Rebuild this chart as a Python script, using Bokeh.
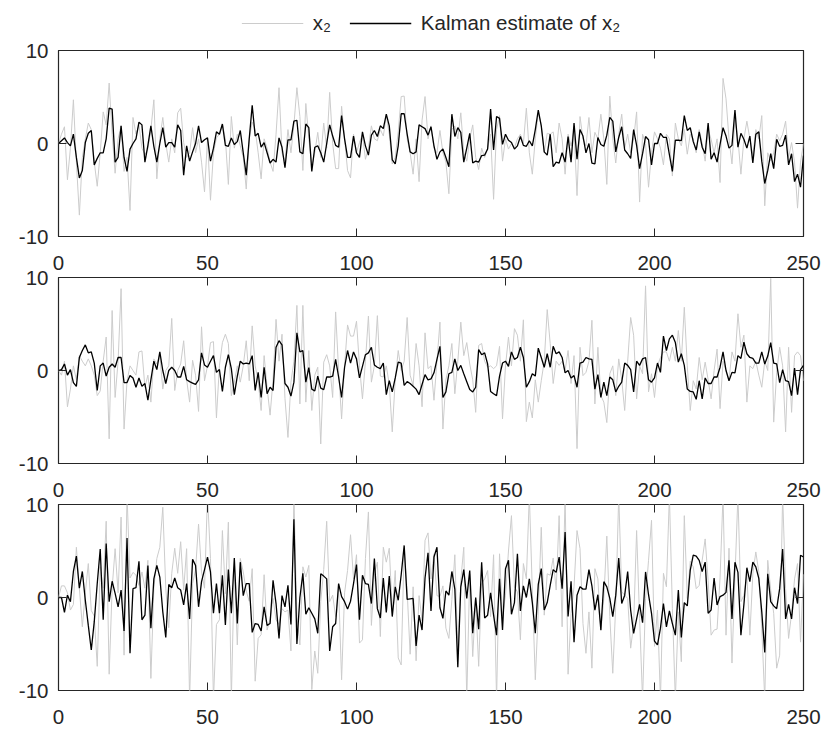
from bokeh.plotting import figure
from bokeh.models import Range1d, FixedTicker, LinearAxis, Legend, LegendItem, ColumnDataSource
from bokeh.layouts import column
from bokeh.embed import file_html
from bokeh.resources import INLINE

x_ticks = [0, 50, 100, 150, 200, 250]
y_ticks = [-10, 0, 10]
y_tick_labels = {-10: "-10", 0: "0", 10: "10"}
legend_labels = ["x\u2082", "Kalman estimate of x\u2082"]

p1_true = [0, 1.0, 1.8, -3.9, -0.5, 4.7, -2.0, -7.7, -1.5, 0.5,
           2.2, 1.5, -2.0, -4.6, -1.0, 3.4, 2.0, 6.5, 1.0, -3.2,
           0.5, 1.9, -3.0, -1.5, -7.2, 2.8, 1.0, 2.0, -0.5, -1.2,
           -0.6, 1.5, 4.7, -3.8, 0.5, 2.8, 0.0, -2.0, 0.5, -1.0,
           3.3, 3.8, 0.1, -1.5, -1.0, 1.7, -1.0, 0.5, -2.0, -5.2,
           0.5, -6.1, -1.0, 0.6, 1.0, 2.1, 0.5, -4.4, 2.9, -0.5,
           1.0, -0.25, -1.5, -4.9, 0.5, 2.3, 1.5, -1.0, -3.8, 0.5,
           -0.5, -2.0, -3.0, 1.0, 6.0, -1.0, -1.9, 1.5, -1.0, 2.0,
           6.0, 2.9, -2.9, 4.3, 0.5, -2.4, -1.0, 1.2, -1.5, 2.2,
           -0.5, 5.5, 0.0, -2.7, -2.7, 4.0, 0.5, -2.9, -3.7, 1.0,
           -1.0, 0.1, 1.0, -1.7, -0.5, 1.9, 0.5, 0.3, 1.5, 0.8,
           3.0, 1.0, -2.2, -1.5, 1.25, 5.05, 5.1, 0.5, -1.0, -3.3,
           0.5, -4.1, 2.5, 5.05, 0.5, 1.9, -0.5, -1.0, 1.4, -1.0,
           -2.0, -5.4, 1.5, 1.9, 0.5, 3.3, -1.0, -1.9, 0.5, 2.0,
           -1.5, -2.8, -0.5, -1.5, -0.5, 1.0, -6.0, 1.5, 3.0, -1.9,
           0.5, -0.6, 0.0, -0.5, 0.5, 1.0, 0.0, 3.8, -1.0, -3.3,
           0.5, 3.3, 2.0, -1.0, 1.1, 1.0, 1.25, -1.0, 2.2, 0.5,
           -3.3, 1.0, -0.25, 1.5, -5.6, 2.9, 0.5, -0.25, 2.8, -1.0,
           1.2, 0.5, 3.15, 0.5, -4.4, 5.1, 0.5, -2.1, 1.0, 3.15,
           -0.5, 1.0, -1.0, 0.5, 3.4, -6.3, 1.0, 0.0, -4.7, -1.0,
           1.25, 0.5, -0.5, -2.3, 1.0, 0.5, -3.5, 2.2, 0.5, -0.25,
           1.5, -1.15, 1.0, 0.5, -1.0, 1.5, 0.0, -1.9, 1.5, 0.45,
           -1.0, 0.5, -4.2, 7.0, 4.8, 0.5, -2.2, 2.5, 0.5, -3.3,
           0.5, 2.4, 0.5, -1.3, 1.5, 0.5, 3.0, -6.7, -1.0, -1.9,
           -1.0, 1.0, 0.3, 1.0, 2.4, -1.5, 0.1, -2.0, -6.95, -2.0, 0.0]

p1_est = [0, 0.3, 0.6, 0.1, -0.25, 1.0, -1.5, -3.7, -2.9, 0.1,
          1.1, 1.4, -2.3, -1.6, -1.0, -1.0, 0.5, 3.8, 3.7, -2.0,
          -1.5, 1.9, -1.5, -3.0, -0.6, 0.0, 0.5, 2.3, 2.0, -2.0,
          -0.2, 1.9, -0.3, -2.0, 0.0, 1.7, -0.4, 0.1, 0.1, -0.4,
          2.0, 1.4, -3.4, -0.25, -1.9, -0.9, 0.0, 1.9, 0.1, 0.4,
          0.6, -1.9, -0.5, 1.25, 1.0, 2.1, -0.2, -0.3, 0.6, -0.1,
          0.2, 1.4, -1.0, -3.4, 0.5, 4.1, 0.8, 1.1, -0.4, 0.1,
          -1.0, -2.1, -1.7, -2.0, 0.6, -0.4, -2.6, 0.4, 0.4, 2.4,
          2.5, -0.9, -1.1, 2.1, 1.7, -3.0, -0.4, -0.25, -1.0, -2.0,
          0.0, 2.0, 0.8, -0.2, -0.4, 3.0, 0.5, -1.5, -1.5, 0.8,
          -1.0, -1.5, 1.25, -0.25, -1.25, 0.9, 1.4, 0.75, 1.9, 1.6,
          3.15, 1.9, -1.75, -2.2, -0.25, 3.2, 3.2, 1.0, -0.9, -1.1,
          -0.9, 2.0, 1.8, 1.6, 0.9, 1.8, -0.25, -1.7, -0.9, -0.6,
          -1.5, -2.5, 3.15, 0.75, 1.7, 1.2, -2.0, -0.5, 1.1, -2.1,
          -1.9, -2.0, -1.3, -1.25, -0.6, 3.7, -0.7, 2.9, 2.7, -0.1,
          1.0, 0.35, 0.1, -0.6, -0.25, 0.75, -0.2, -0.3, 0.3, -0.25,
          1.5, 3.6, 1.9, -0.9, -1.25, 1.0, -2.5, -2.0, -2.1, -1.0,
          -2.0, 0.75, -2.0, 2.2, -1.7, 1.5, 0.8, -1.0, 0.0, -2.1,
          -2.2, 0.65, -0.1, -0.3, 0.9, 2.8, 2.4, -0.9, 0.65, 1.8,
          -0.7, -1.1, -1.6, 1.5, -0.2, -2.7, -1.1, 0.75, 0.4, -2.3,
          0.0, 0.0, 1.1, 0.65, 0.65, -1.2, -3.0, 0.35, 0.35, 0.3,
          3.0, 1.4, 1.7, 0.2, -0.7, 1.25, -0.4, -1.1, 2.2, -1.7,
          -1.0, -2.0, -0.1, 1.7, 0.8, -0.5, -0.2, 3.6, -0.4, 1.1,
          0.45, -0.5, 0.8, -2.1, 1.0, 1.25, -1.9, -4.3, -2.9, -1.1,
          -2.7, 0.45, -0.3, -0.2, 0.9, -2.3, -1.1, -4.1, -3.3, -4.7, -1.3]

p2_true = [0, -0.5, 1.0, -3.9, -2.0, 0.5, -1.0, 1.6, 1.0, 0.5,
           1.25, 0.5, -0.5, -2.7, -2.2, 1.0, 3.6, -7.35, 6.45, -2.9,
           1.0, 8.8, -6.3, -1.1, 0.5, 0.0, -0.5, 2.0, 2.1, -1.8,
           -0.5, -3.4, 1.25, 0.7, 1.7, -2.0, 0.0, 0.5, 5.6, -2.15,
           0.0, 0.7, 3.2, -1.0, -3.4, 1.1, -0.5, -4.4, 4.7, -1.1,
           0.5, 3.0, 3.1, -5.1, 0.5, 3.0, 3.9, 2.9, -2.7, -1.25,
           0.5, -1.25, 0.5, 3.2, -1.1, 4.8, 0.5, -1.1, -4.3, 1.6,
           -1.8, -4.8, -1.0, 5.5, 1.0, 3.9, -3.0, -7.2, -1.25, 1.0,
           7.0, -3.6, 7.0, -3.4, 2.15, -4.3, -0.5, 0.35, -7.9, 0.9,
           1.7, 0.5, -2.9, 6.3, 0.0, -5.2, 0.5, 4.9, 3.7, 3.7,
           5.3, 0.5, -3.05, 1.0, 5.85, -1.25, 0.5, 5.9, -0.6, -0.7,
           0.5, -1.5, -6.6, -1.0, 2.15, 0.0, 1.0, 5.7, -0.5, -1.6,
           2.9, 0.5, -3.9, 4.05, 0.2, 0.5, -3.2, 1.0, 5.2, -6.3,
           -1.0, 0.5, 2.9, -2.5, 1.0, 5.2, 1.6, 3.0, 0.7, -1.0,
           -4.5, 2.7, 2.9, 1.0, 0.35, 0.5, 0.2, 0.5, 2.6, -5.2,
           0.5, 3.6, 0.5, 4.5, 3.8, 1.0, 5.45, -5.5, -3.4, -5.1,
           -1.0, -3.4, -1.1, 1.0, 6.55, 2.9, -1.4, 1.0, 0.55, 1.0,
           0.0, 2.15, -1.4, 1.6, -8.4, 2.5, -0.55, -0.2, 1.0, 5.4,
           -3.6, 2.5, -2.7, -3.4, -5.6, -0.35, 0.5, -2.7, 1.25, -1.0,
           -4.3, 1.0, 5.7, 3.8, -3.05, 0.5, -0.35, 9.1, -2.3, -0.35,
           -2.9, 0.5, 1.4, 2.0, 2.0, 1.0, 2.5, 1.0, 4.3, 1.0,
           6.8, 0.5, -4.3, -1.1, -2.0, 1.4, -1.0, 0.9, -1.0, -3.05,
           0.0, 2.3, -4.1, 1.0, 0.0, -1.0, 2.0, 1.0, 6.1, 2.5,
           3.8, -3.4, 0.5, 0.2, 1.0, -0.5, -1.8, 1.0, 0.0, 9.9,
           -5.55, -0.2, 2.5, 0.5, -6.6, 2.5, -4.5, 1.6, 2.0, 1.6, -1.1]

p2_est = [0, 0.1, 0.7, -0.5, 0.1, -1.3, -1.7, 1.4, 2.15, 2.75,
          1.9, 2.0, 0.8, -2.15, 0.5, 0.8, -0.6, 0.35, 0.7, 0.35,
          1.4, 1.4, -1.3, -1.3, -0.55, -0.8, -1.8, -0.8, -1.7, -1.4,
          -3.2, -1.0, 1.0, 0.1, 2.0, 0.0, -1.4, 0.0, 0.35, 0.0,
          -0.7, -0.7, 0.45, -1.0, -1.2, -1.35, -1.5, -1.0, 1.9, 0.6,
          0.35, 1.0, 1.6, -0.2, 0.1, -2.25, 0.35, 1.7, 0.2, -2.6,
          -0.6, 1.0, 0.7, 0.8, 0.7, 1.6, -2.15, -0.2, -2.9, 0.35,
          -2.5, -1.8, -2.15, 2.5, 3.2, 2.75, -1.4, -1.8, -2.75, -1.25,
          4.05, 2.0, 2.15, -1.25, 0.3, -2.0, -2.2, -0.6, -1.9, -2.05,
          -0.7, -0.7, -0.6, 1.2, -0.7, -2.9, 0.35, 2.15, 0.8, 2.0,
          1.25, -0.8, 0.45, 1.7, 1.9, 2.5, 0.6, 0.35, 0.2, 0.8,
          -2.6, -1.1, -2.3, -0.8, 0.9, 0.8, -1.6, -1.2, -1.4, -1.7,
          -2.0, -2.6, -1.5, -0.45, -1.0, -0.9, -0.25, 1.2, 2.6, -2.9,
          -2.3, -0.35, -0.2, 1.25, 0.0, 0.55, -0.35, -1.2, -2.05, -2.3,
          -1.8, 2.25, 1.7, 1.9, 0.7, -2.25, -2.5, -2.7, -0.6, 0.8,
          1.0, 0.45, 2.0, 1.2, 1.4, 2.5, 1.4, -1.8, -1.2, -0.35,
          -0.6, 2.4, 1.4, 0.35, 1.8, 0.35, 2.6, 1.8, 2.0, 1.4,
          -0.25, 0.0, -0.8, -0.55, -1.8, 0.8, 0.9, 1.4, 1.25, 1.2,
          -2.0, -0.45, -2.9, -1.25, -2.7, -0.7, -1.0, -2.3, -1.7, -1.25,
          0.8, 0.55, 0.1, -2.3, 1.0, 0.55, 1.25, 1.4, -1.0, -1.25,
          -0.8, 0.8, -0.2, 3.7, 2.15, 3.4, 3.8, 3.0, 0.9, 1.8,
          0.55, -2.0, -2.25, -2.3, -3.1, -1.1, -3.05, -0.8, -1.4, -1.4,
          -0.7, -0.7, 0.35, 2.0, 0.0, -1.1, -0.2, -0.25, 1.6, 1.3,
          3.05, 1.8, 1.4, 1.3, 0.8, 0.8, 2.0, 0.7, 1.55, 3.0,
          0.8, 0.7, -1.3, 0.1, -1.1, -1.2, -2.7, 0.25, -2.6, 0.1, 0.55]

p3_true = [0, 1.25, 1.25, 0.5, -1.35, -0.75, 5.4, 1.0, -3.15, 0.5,
           3.65, -1.4, -2.0, -7.4, 3.3, 1.0, 8.2, -8.25, 1.0, 5.25,
           0.5, 8.65, -6.2, 11, 2.1, 2.7, 2.4, 1.3, 2.75, 1.0,
           4.0, -8.7, 1.0, 4.2, 5.4, 9.7, 1.0, -3.25, 2.6, 5.3,
           2.6, 6.0, 0.8, 5.25, -11, 1.5, 3.0, 7.9, 2.75, 1.0,
           11, 4.2, -11, -2.9, -2.4, 7.2, 0.4, 8.1, -11, 3.2,
           -5.1, 4.2, 2.75, 0.7, -0.4, 3.1, -9.0, -4.4, -4.0, 2.45,
           -3.5, -2.3, -0.1, -2.4, -2.9, -1.2, -1.55, -1.35, -5.75, 11,
           -2.05, -5.1, 3.3, 2.2, 3.45, -9.9, -5.75, -8.15, -0.45, 3.0,
           8.2, -0.45, 0.25, -2.05, 1.0, -8.85, 0.5, 2.9, 6.75, 2.0,
           4.6, -4.9, -4.55, 4.2, 9.2, -3.0, 2.55, 3.8, -4.2, 5.4,
           3.8, 5.3, -1.5, 2.9, -6.5, -7.25, 5.25, 0.7, -6.1, 1.15,
           -6.8, 0.2, -2.5, 6.15, 6.95, 2.0, 4.7, 0.2, 0.1, 1.25,
           -3.3, -4.4, -0.2, 4.6, -5.65, 1.85, 5.4, -11, 2.55, -6.35,
           -0.3, -7.4, 1.5, 2.0, 2.9, -2.05, 4.6, -11, 4.7, -2.05,
           0.25, 5.0, 8.8, 1.15, 0.6, -4.55, 3.65, 2.0, 11, 0.8,
           -8.85, -1.55, 7.55, -1.9, 2.55, 2.4, 4.25, 0.8, 8.8, -3.15,
           11, -8.25, -1.7, 1.15, 7.2, 5.25, -2.8, -6.0, -1.55, -7.6,
           3.1, 2.0, -3.6, -0.1, 6.6, -2.05, -8.15, -0.8, 11, 0.6,
           0.25, -0.1, -5.45, -2.9, 7.2, -2.25, -11, -0.1, 4.0, 8.3,
           -5.25, -1.35, -11, 2.6, 1.15, 11, -1.2, -11, -1.55, -6.9,
           8.8, -0.1, 3.9, 3.3, 0.95, 1.3, 4.0, 6.3, 1.85, -4.05,
           -3.5, -3.4, 2.1, 11, -4.05, 5.3, -7.05, 2.2, 11, -0.45,
           0.25, 2.4, -4.05, 2.55, 4.9, 2.75, -3.3, -11, 4.0, 0.8,
           -1.7, -7.6, -6.2, 11, 0.95, -4.4, -1.7, 2.0, 3.65, -4.8, 2.5]

p3_est = [0, 0, -1.6, 0.25, -0.45, 2.8, 4.45, 1.0, 2.8, -0.3,
          -3.0, -5.65, -2.6, 1.5, 5.2, -2.4, 5.8, -0.45, 1.75, 0.45,
          -1.0, 0.8, -3.6, 6.4, -6.0, 0.95, 1.05, 3.9, -2.4, -1.9,
          3.45, -3.3, 2.0, 3.45, 2.2, -1.55, -4.3, 1.4, 1.05, 2.1,
          1.05, 0.8, -0.8, 1.5, -2.3, 4.1, 3.45, -1.0, 1.7, 3.0,
          4.35, 2.75, -1.7, 1.5, -1.7, 2.4, -2.95, 3.0, -1.7, 4.25,
          -2.8, 3.8, 0.2, 1.5, 1.5, -3.75, -2.8, -2.9, -3.6, -1.0,
          -3.0, -2.8, 1.85, -0.65, -4.4, 0.2, -1.0, 1.3, -2.9, 8.4,
          -5.0, 0.0, 2.6, -1.8, -1.1, -1.7, -2.3, -3.85, 2.55, 2.3,
          2.0, -5.75, -3.15, -2.8, 1.5, 0.1, -0.45, -1.25, -0.4, 1.5,
          3.55, -2.4, 2.4, 1.5, 1.4, -0.65, 4.2, -1.2, -2.2, 2.1,
          -1.6, 2.3, -2.05, 1.15, -0.3, 2.45, 5.6, -0.2, -0.15, -0.1,
          -5.2, -1.9, -3.5, 2.1, 4.8, -1.45, 4.35, 5.4, -1.1, -2.25,
          0.7, 0.25, 2.8, 0.9, -7.5, 1.15, 3.0, -0.1, 2.9, -3.85,
          0.0, -3.4, 3.8, -2.2, -1.9, 0.5, -1.9, -4.05, 2.0, -3.5,
          3.1, 4.0, -1.8, -0.55, 4.7, -1.45, 1.25, 0.0, 2.0, -0.55,
          -3.85, 1.4, 3.1, -1.35, -0.55, 1.3, 3.0, 2.7, 4.35, 0.95,
          7.05, -2.05, 1.75, -4.8, 0.25, 1.15, 0.9, 0.9, 3.0, 1.25,
          -1.35, 0.3, -3.5, 1.7, 1.15, -0.1, -2.05, 0.25, 4.25, -0.65,
          0.25, 2.8, -1.35, -3.85, -2.3, -0.75, -2.7, 2.75, 0.3, -1.7,
          -4.7, -5.1, -3.3, -0.65, -3.15, -1.45, -2.8, -4.05, 0.8, -4.3,
          -0.55, -0.9, 2.95, 4.55, 4.45, 4.0, 2.8, 3.8, -1.7, -1.35,
          2.1, -0.8, 0.1, 0.25, 0.55, 4.0, -2.3, 3.8, 2.7, -4.05,
          -0.75, 3.2, 1.7, 3.8, 3.3, 2.05, -1.55, -5.9, 2.55, -0.45,
          -0.9, -1.2, 0.95, 5.2, -2.3, -0.75, -2.3, 1.05, -0.65, 4.55, 4.35]

TXT = "#262626"
FONT = "Liberation Sans"
GRAY = "#cccccc"
FS = "20.5px"


def style_axis(ax, labels=True, standoff=10):
    ax.major_tick_in = 8
    ax.major_tick_out = 0
    ax.minor_tick_line_color = None
    ax.major_tick_line_color = TXT
    ax.major_tick_line_width = 1
    ax.axis_line_color = None
    ax.major_label_text_font = FONT
    ax.major_label_standoff = standoff
    if labels:
        ax.major_label_text_color = TXT
        ax.major_label_text_font_size = FS
    else:
        ax.major_label_overrides = {t: "" for t in ax.ticker.ticks}
        ax.major_label_text_color = None
        ax.major_label_text_alpha = 0
        ax.major_label_text_font_size = "1px"


def make_panel(truth, est, top_border, bottom_border, top_labels, bottom_labels):
    p = figure(frame_width=745, frame_height=186,
               x_range=Range1d(0, 250), y_range=Range1d(-10, 10),
               output_backend="svg", toolbar_location=None, tools="",
               x_axis_location=None, y_axis_location=None,
               min_border_left=58, min_border_right=20,
               min_border_top=top_border, min_border_bottom=bottom_border, title=None)
    p.grid.visible = False
    p.outline_line_color = TXT
    p.outline_line_width = 1.2
    p.background_fill_color = "white"
    p.border_fill_color = "white"
    t = list(range(len(truth)))
    src = ColumnDataSource(dict(t=t, truth=truth, est=est[:len(truth)]))
    p.line("t", "truth", source=src, line_color=GRAY, line_width=1.0)
    p.line("t", "est", source=src, line_color="black", line_width=1.3)

    bottom = LinearAxis(ticker=FixedTicker(ticks=x_ticks))
    style_axis(bottom, bottom_labels, 19)
    top = LinearAxis(ticker=FixedTicker(ticks=x_ticks))
    style_axis(top, top_labels, 8 if top_labels else 0)
    left = LinearAxis(ticker=FixedTicker(ticks=y_ticks),
                      major_label_overrides=y_tick_labels)
    style_axis(left, True, 10)
    right = LinearAxis(ticker=FixedTicker(ticks=y_ticks))
    style_axis(right, False, 0)
    p.add_layout(bottom, "below")
    p.add_layout(top, "above")
    p.add_layout(left, "left")
    p.add_layout(right, "right")
    return p


def make_legend_fig():
    q = figure(frame_width=745, frame_height=36,
               x_range=Range1d(0, 1), y_range=Range1d(0, 1),
               output_backend="svg", toolbar_location=None, tools="",
               x_axis_type=None, y_axis_type=None,
               min_border_left=58, min_border_right=20,
               min_border_top=0, min_border_bottom=0, title=None)
    q.grid.visible = False
    q.outline_line_color = None
    q.background_fill_color = "white"
    q.border_fill_color = "white"
    # the legend's own sample lines; the data lies outside this strip's view
    offview = ColumnDataSource(dict(a=[5, 6], b=[5, 5]))
    g1 = q.line("a", "b", source=offview, line_color=GRAY, line_width=1.0)
    g2 = q.line("a", "b", source=offview, line_color="black", line_width=1.3)
    lg = Legend(items=[LegendItem(label=legend_labels[0], renderers=[g1]),
                       LegendItem(label=legend_labels[1], renderers=[g2])],
                orientation="horizontal", location="top_center",
                glyph_width=62, glyph_height=20, label_standoff=10,
                spacing=16, padding=0, margin=11,
                border_line_color=None, background_fill_alpha=0,
                label_text_font=FONT, label_text_font_size=FS,
                label_text_color=TXT)
    q.add_layout(lg, "center")
    return q


f0 = make_legend_fig()
f1 = make_panel(p1_true, p1_est, 14, 14, False, False)
f2 = make_panel(p2_true, p2_est, 27, 14, True, False)
f3 = make_panel(p3_true, p3_est, 27, 41, True, True)

layout = column(f0, f1, f2, f3, spacing=0)
open("out.html", "w").write(file_html(layout, INLINE))
